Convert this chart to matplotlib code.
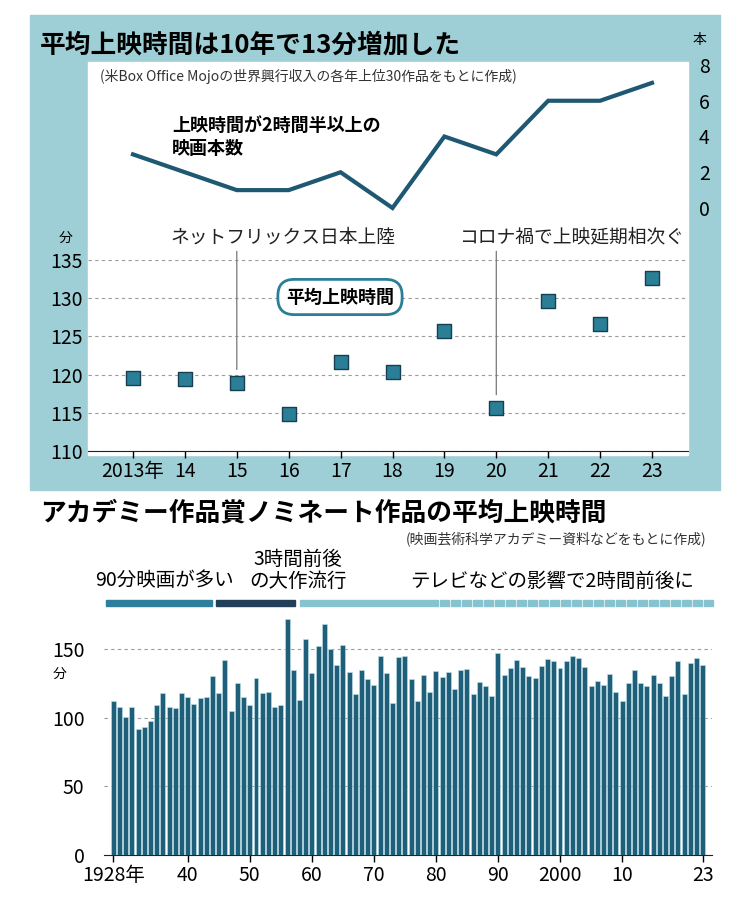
import matplotlib
matplotlib.use("Agg")
import matplotlib.pyplot as plt
from matplotlib.patches import Rectangle
import numpy as np

plt.rcParams['font.family'] = ['Noto Sans CJK JP', 'DejaVu Sans']

W, H = 750, 918
TEAL_BG = "#9fcfd6"
DARK = "#1e5872"
MARK = "#2a7f96"
GRID = "#9a9a9a"

# top chart data
years_top = [2013, 2014, 2015, 2016, 2017, 2018, 2019, 2020, 2021, 2022, 2023]
long_counts = [3, 2, 1, 1, 2, 0, 4, 3, 6, 6, 7]
avg_minutes = [119.6, 119.4, 118.9, 114.8, 121.7, 120.3, 125.7, 115.6, 129.6, 126.6, 132.6]
top_xticklabels = ["2013年", "14", "15", "16", "17", "18", "19", "20", "21", "22", "23"]

# academy nominees, 1928-2023
years_bot = list(range(1928, 2024))
oscar_minutes = [
    112, 108, 100.5, 108, 92, 93, 97.5, 109, 118, 108, 107, 118,
    115, 110, 114, 115, 130, 118, 142, 105, 125, 115,
    109, 129, 118, 119, 107.5, 109, 171.6, 135, 113, 157,
    132.5, 152, 168, 150, 138, 152.6, 133.5, 117, 135, 128,
    124, 145, 132.5, 111, 144, 145, 128, 112, 131, 119,
    134, 129.6, 133, 121, 135, 135.4, 117, 126, 123, 116,
    147, 131, 136, 142, 137, 130, 129, 137.6, 143, 141,
    136, 141, 144.6, 143.7, 136.6, 123, 127, 123.5, 132, 119,
    112, 125, 135, 125, 123, 131, 125.5, 115.5, 130.6, 141.5,
    117.5, 140, 143.7, 138.6,
]
bot_xticks = [1928, 1940, 1950, 1960, 1970, 1980, 1990, 2000, 2010, 2023]
bot_xticklabels = ["1928年", "40", "50", "60", "70", "80", "90", "2000", "10", "23"]


def fx(x):
    return x / W


def fy(y):
    return 1 - y / H


def box(l, t, r, b):
    return [fx(l), fy(b), (r - l) / W, (b - t) / H]


fig = plt.figure(figsize=(7.5, 9.18), dpi=100)

# teal panel + white plot area, behind the axes
fig.patches.append(Rectangle((fx(30), fy(490)), 690 / W, 475 / H, transform=fig.transFigure,
                             color=TEAL_BG, zorder=-10))
fig.patches.append(Rectangle((fx(88), fy(455)), 600 / W, 393 / H, transform=fig.transFigure,
                             color="white", zorder=-9))

fig.text(fx(40), fy(45), "平均上映時間は10年で13分増加した", fontsize=18.5, fontweight="bold",
         va="center", ha="left")
fig.text(fx(100), fy(76), "(米Box Office Mojoの世界興行収入の各年上位30作品をもとに作成)",
         fontsize=10, va="center", ha="left", color="#333333")

xl = (2013 - 45 / 51.9, 2023 + 36 / 51.9)

# line chart (count of films >= 2.5h)
ax1 = fig.add_axes(box(88, 65, 688, 208))
ax1.patch.set_alpha(0)
ax1.plot(years_top, long_counts, color=DARK, linewidth=3, solid_joinstyle="miter", clip_on=False)
ax1.set_xlim(*xl)
ax1.set_ylim(0, 8)
ax1.set_xticks([])
ax1.yaxis.tick_right()
ax1.set_yticks([0, 2, 4, 6, 8])
ax1.tick_params(axis="y", length=0, labelsize=14, pad=8)
for s in ax1.spines.values():
    s.set_visible(False)
fig.text(fx(700), fy(40), "本", fontsize=10, ha="center", va="center")
fig.text(fx(172), fy(137), "上映時間が2時間半以上の\n映画本数", fontsize=13, fontweight="bold",
         ha="left", va="center", linespacing=1.25)

# scatter (average runtime)
ax2 = fig.add_axes(box(88, 260, 688, 451))
ax2.patch.set_alpha(0)
ax2.scatter(years_top, avg_minutes, marker="s", s=110, color=MARK, edgecolor="#163f52",
            linewidth=1, zorder=3, clip_on=False)
ax2.set_xlim(*xl)
ax2.set_ylim(110, 135)
ax2.set_yticks([110, 115, 120, 125, 130, 135])
ax2.yaxis.grid(True, color=GRID, linestyle=(0, (3, 3)), linewidth=0.8)
ax2.set_axisbelow(True)
ax2.set_xticks(years_top)
ax2.set_xticklabels(top_xticklabels)
ax2.tick_params(axis="y", length=0, labelsize=14, pad=4)
ax2.tick_params(axis="x", length=5, width=1, labelsize=14, pad=2, direction="out")
for k in ["top", "right", "left"]:
    ax2.spines[k].set_visible(False)
ax2.spines["bottom"].set_color("#222222")
fig.text(fx(66), fy(238), "分", fontsize=10, ha="center", va="center")

ax2.annotate("", xy=(2015, 118.9 + 1.4), xytext=(2015, 135 + 1.5), annotation_clip=False,
             arrowprops=dict(arrowstyle="-", color="#777777", lw=0.9))
ax2.annotate("", xy=(2020, 115.6 + 1.4), xytext=(2020, 135 + 1.5), annotation_clip=False,
             arrowprops=dict(arrowstyle="-", color="#777777", lw=0.9))
fig.text(fx(283), fy(237), "ネットフリックス日本上陸", fontsize=13.5, ha="center", va="center",
         color="#222222")
fig.text(fx(572), fy(237), "コロナ禍で上映延期相次ぐ", fontsize=13.5, ha="center", va="center",
         color="#222222")
fig.text(fx(340), fy(297), "平均上映時間", fontsize=13, fontweight="bold", ha="center",
         va="center", bbox=dict(boxstyle="round,pad=0.45,rounding_size=0.9", fc="white",
                                ec=MARK, lw=2))

# bottom chart
fig.text(fx(40), fy(513), "アカデミー作品賞ノミネート作品の平均上映時間", fontsize=18.5,
         fontweight="bold", va="center", ha="left")
fig.text(fx(706), fy(539), "(映画芸術科学アカデミー資料などをもとに作成)", fontsize=10,
         va="center", ha="right", color="#333333")

# era band
fig.text(fx(165), fy(581), "90分映画が多い", fontsize=14, ha="center", va="center")
fig.text(fx(298), fy(570), "3時間前後\nの大作流行", fontsize=14, ha="center", va="center",
         linespacing=1.05)
fig.text(fx(552), fy(581), "テレビなどの影響で2時間前後に", fontsize=14, ha="center", va="center")
for l, r, c in [(106, 212, "#2d7f9c"), (216, 295, "#233f58"), (300, 438, "#86c3cf")]:
    fig.patches.append(Rectangle((fx(l), fy(606)), (r - l) / W, 6 / H,
                                 transform=fig.transFigure, color=c))
for l in np.arange(440, 705, 11.0):
    fig.patches.append(Rectangle((fx(l), fy(606)), 9 / W, 6 / H,
                                 transform=fig.transFigure, color="#86c3cf"))

ax3 = fig.add_axes(box(104, 613, 712, 855))
ax3.bar(years_bot, oscar_minutes, width=0.8, color="#1f5f79", edgecolor="#bfe3ea",
        linewidth=0.4, zorder=3)
ax3.set_xlim(1926.5, 2024.5)
ax3.set_ylim(0, 150 * 242 / 206)
ax3.set_yticks([0, 50, 100, 150])
ax3.yaxis.grid(True, color=GRID, linestyle=(0, (3, 3)), linewidth=0.8)
ax3.set_xticks(bot_xticks)
ax3.set_xticklabels(bot_xticklabels)
ax3.tick_params(axis="y", length=0, labelsize=14, pad=14)
ax3.tick_params(axis="x", length=5, width=1, labelsize=14, pad=2)
for k in ["top", "right", "left"]:
    ax3.spines[k].set_visible(False)
ax3.spines["bottom"].set_color("#222222")
fig.text(fx(60), fy(674), "分", fontsize=10, ha="center", va="center")

fig.savefig("out.png", dpi=100)
